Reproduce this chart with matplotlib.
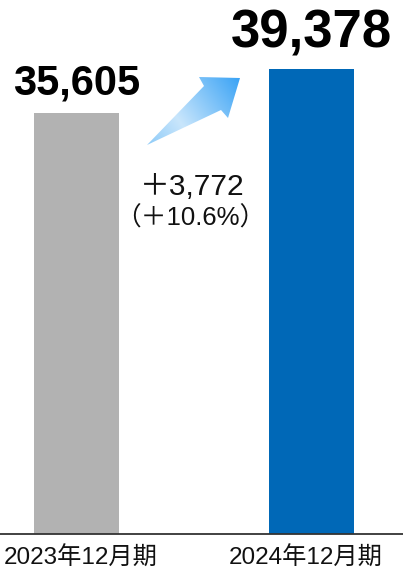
import numpy as np
import matplotlib
matplotlib.use("Agg")
import matplotlib.pyplot as plt
import matplotlib.transforms as mtransforms
from matplotlib.path import Path
from matplotlib.patches import PathPatch
from matplotlib.colors import LinearSegmentedColormap

# data
periods = ["2023年12月期", "2024年12月期"]
values = [35605, 39378]
bar_colors = ["#b2b2b2", "#0068b7"]
diff_label = "＋3,772"
pct_label = "（＋10.6%）"

fonts = ["Liberation Sans", "Noto Sans CJK JP", "DejaVu Sans"]
plt.rcParams["font.family"] = fonts

W, H = 403, 571
fig = plt.figure(figsize=(W / 100, H / 100), dpi=100)

base_px = 534
ax = fig.add_axes([0, (H - base_px) / H, 1, base_px / H])
x = np.arange(len(values))
ax.bar(x, values, width=0.362, color=bar_colors, zorder=2)
ax.set_xlim(-0.3255, 1.389)
ax.set_ylim(0, 45186)

for s in ["top", "right", "left"]:
    ax.spines[s].set_visible(False)
ax.spines["bottom"].set_color("#333333")
ax.spines["bottom"].set_linewidth(1.3)
ax.set_yticks([])
ax.set_xticks(x)
ax.set_xticklabels(periods, fontsize=17.5, color="#111111")
ax.tick_params(axis="x", length=0, pad=9)
# labels sit a little off the bar centres in the original
for lab, dx in zip(ax.get_xticklabels(), [4, -6]):
    lab.set_transform(lab.get_transform() +
                      mtransforms.ScaledTranslation(dx / 100, 0, fig.dpi_scale_trans))

# value labels
ax.text(x[0], values[0] + 850, f"{values[0]:,}", ha="center", va="bottom",
        fontsize=30, fontweight="bold", color="black")
ax.text(x[1], values[1] + 850, f"{values[1]:,}", ha="center", va="bottom",
        fontsize=38, fontweight="bold", color="black")

# overlay in pixel coordinates for the arrow and change labels
ov = fig.add_axes([0, 0, 1, 1])
ov.set_xlim(0, W)
ov.set_ylim(H, 0)
ov.axis("off")
ov.patch.set_alpha(0)

ov.text(192, 187, diff_label, ha="center", va="center", fontsize=21.5, color="#111111")
ov.text(190, 218, pct_label, ha="center", va="center", fontsize=18.5, color="#111111")

# gradient arrow
pts = [(147, 145), (204, 86), (199, 77), (240, 78), (228, 118), (221, 110), (147, 145)]
codes = [Path.MOVETO] + [Path.LINETO] * 5 + [Path.CLOSEPOLY]
patch = PathPatch(Path(pts, codes), facecolor="none", edgecolor="none")
ov.add_patch(patch)

cmap = LinearSegmentedColormap.from_list(
    "arr", [(0, "#8ecbf8"), (0.35, "#c9e6fc"), (1, "#3aa3f5")])
gx, gy = np.meshgrid(np.linspace(140, 245, 200), np.linspace(70, 150, 160))
# project on the arrow direction
dx, dy = 240 - 147, 78 - 145
t = ((gx - 147) * dx + (gy - 145) * dy) / (dx * dx + dy * dy)
img = ov.imshow(np.clip(t, 0, 1), cmap=cmap, extent=(140, 245, 150, 70),
                origin="upper", vmin=0, vmax=1, interpolation="bilinear", zorder=3)
img.set_clip_path(patch)

fig.savefig("out.png", dpi=100)
